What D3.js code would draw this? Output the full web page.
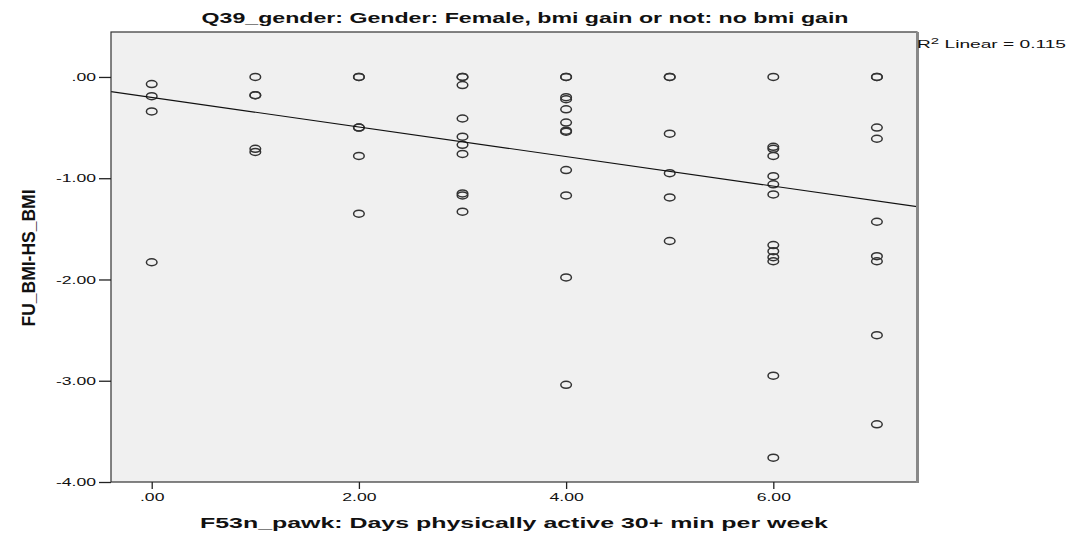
<!DOCTYPE html>
<html><head><meta charset="utf-8">
<script src="https://cdn.jsdelivr.net/npm/d3@7/dist/d3.min.js"></script>
<style>body{margin:0;background:#fff;} svg{display:block;font-family:Arial,"Liberation Sans",sans-serif;}</style>
</head><body>
<svg id="chart" width="1075" height="534"></svg>
<script>
// ---- data ----
const days = [
  0,0,0,0,
  1,1,1,1,1,
  2,2,2,2,2,2,
  3,3,3,3,3,3,3,3,3,3,
  4,4,4,4,4,4,4,4,4,4,4,4,
  5,5,5,5,5,5,
  6,6,6,6,6,6,6,6,6,6,6,6,6,
  7,7,7,7,7,7,7,7,7
];
const bmiChange = [
  -0.07,-0.19,-0.34,-1.83,
  0,-0.18,-0.18,-0.71,-0.74,
  0,0,-0.50,-0.50,-0.78,-1.35,
  0,0,-0.08,-0.41,-0.59,-0.67,-0.76,-1.15,-1.17,-1.33,
  0,0,-0.20,-0.22,-0.32,-0.45,-0.53,-0.54,-0.92,-1.17,-1.98,-3.04,
  0,0,-0.56,-0.95,-1.19,-1.62,
  0,-0.69,-0.71,-0.78,-0.98,-1.06,-1.16,-1.66,-1.72,-1.78,-1.82,-2.95,-3.76,
  0,0,-0.50,-0.61,-1.43,-1.77,-1.82,-2.55,-3.43
];
const fitCoef = [-0.202, -0.146]; // intercept, slope
const xTicks = [0, 2, 4, 6];
const xTickLabels = [".00", "2.00", "4.00", "6.00"];
const yTicks = [0, -1, -2, -3, -4];
const yTickLabels = [".00", "-1.00", "-2.00", "-3.00", "-4.00"];
const titleText = "Q39_gender: Gender: Female, bmi gain or not: no bmi gain";
const xTitle = "F53n_pawk: Days physically active 30+ min per week";
const yTitle = "FU_BMI-HS_BMI";
const r2Text = ["R", "2", " Linear = 0.115"];

// ---- layout ----
const L = 111, R = 917, T = 32, B = 482;
const svg = d3.select("#chart");
const x = d3.scaleLinear().domain([-0.393, 7.387]).range([L, R]);
const y = d3.scaleLinear().domain([-4, 0.444]).range([B, T]);
const stretch = 1.6;

svg.append("rect").attr("x", L).attr("y", T).attr("width", R - L).attr("height", B - T)
  .attr("fill", "#f0f0f0");

svg.append("clipPath").attr("id", "clip").append("rect")
  .attr("x", L).attr("y", T).attr("width", R - L).attr("height", B - T);

// points
svg.append("g").attr("clip-path", "url(#clip)").selectAll("ellipse")
  .data(days.map((d, i) => [d, bmiChange[i]]))
  .join("ellipse")
  .attr("cx", d => x(d[0])).attr("cy", d => y(d[1]))
  .attr("rx", 5.3).attr("ry", 3.5)
  .attr("fill", "none").attr("stroke", "#333").attr("stroke-width", 1.5);

// fit line
const xd = x.domain();
svg.append("line").attr("clip-path", "url(#clip)")
  .attr("x1", x(xd[0])).attr("y1", y(fitCoef[0] + fitCoef[1] * xd[0]))
  .attr("x2", x(xd[1])).attr("y2", y(fitCoef[0] + fitCoef[1] * xd[1]))
  .attr("stroke", "#111").attr("stroke-width", 1.2);

// border
svg.append("rect").attr("x", L).attr("y", T).attr("width", R - L).attr("height", B - T)
  .attr("fill", "none").attr("stroke", "#333").attr("stroke-width", 1.2);
svg.append("line").attr("x1", R + 0.5).attr("x2", R + 0.5).attr("y1", T).attr("y2", B + 1)
  .attr("stroke", "#888").attr("stroke-width", 3);

// axes
const yAxis = d3.axisLeft(y).tickValues(yTicks).tickFormat((d, i) => yTickLabels[i])
  .tickSize(12).tickPadding(3);
const gy = svg.append("g").attr("transform", `translate(${L},0)`).call(yAxis);
const xAxis = d3.axisBottom(x).tickValues(xTicks).tickFormat((d, i) => xTickLabels[i])
  .tickSize(7).tickPadding(4);
const gx = svg.append("g").attr("transform", `translate(0,${B})`).call(xAxis);
[gx, gy].forEach(g => {
  g.select(".domain").remove();
  g.selectAll("line").attr("stroke", "#222").attr("stroke-width", 1.3);
  g.selectAll("text").attr("font-size", 11).attr("fill", "#111")
    .attr("font-family", "Arial, 'Liberation Sans', sans-serif")
    .each(function () {
      const w = this.getComputedTextLength();
      d3.select(this).attr("textLength", w * stretch).attr("lengthAdjust", "spacingAndGlyphs");
    });
});

// title
svg.append("text").attr("x", 525).attr("y", 23).attr("text-anchor", "middle")
  .attr("font-size", 14).attr("font-weight", "bold").attr("fill", "#111")
  .attr("textLength", 647).attr("lengthAdjust", "spacingAndGlyphs").text(titleText);

// x title
svg.append("text").attr("x", 514).attr("y", 528).attr("text-anchor", "middle")
  .attr("font-size", 15).attr("font-weight", "bold").attr("fill", "#111")
  .attr("textLength", 628).attr("lengthAdjust", "spacingAndGlyphs").text(xTitle);

// y title
svg.append("text").attr("transform", "translate(35,258) rotate(-90)")
  .attr("text-anchor", "middle")
  .attr("font-size", 19).attr("font-weight", "bold").attr("fill", "#111")
  .attr("textLength", 137).attr("lengthAdjust", "spacingAndGlyphs").text(yTitle);

// R2 label
const r2 = svg.append("text").attr("x", 917).attr("y", 48).attr("font-size", 11.5).attr("fill", "#111")
  .attr("textLength", 149).attr("lengthAdjust", "spacingAndGlyphs");
r2.append("tspan").text(r2Text[0]);
r2.append("tspan").attr("dy", -4).attr("font-size", 9).text(r2Text[1]);
r2.append("tspan").attr("dy", 4).text(r2Text[2]);
</script>
</body></html>
